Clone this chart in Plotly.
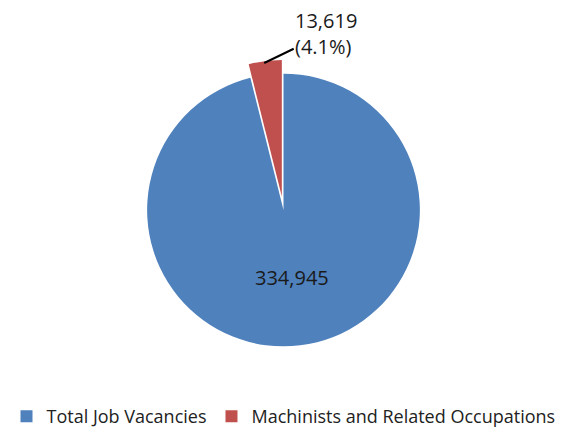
import plotly.graph_objects as go

categories = ["Total Job Vacancies", "Machinists and Related Occupations"]
values = [334945, 13619]
labels_text = ["334,945", "13,619<br>(4.1%)"]
colors = ["#4F81BD", "#C0504D"]

fig = go.Figure(go.Pie(
    labels=categories,
    values=values,
    text=[labels_text[0], ""],
    textinfo="text",
    textposition=["inside", "none"],
    insidetextorientation="horizontal",
    marker=dict(colors=colors, line=dict(color="white", width=0)),
    pull=[0, 0.1],
    sort=False,
    direction="clockwise",
    rotation=0,
    showlegend=True,
    insidetextfont=dict(family="Open Sans", size=20, color="#1a1a1a"),
    hoverinfo="label+value+percent",
))

fig.add_annotation(
    xref="paper", yref="paper", x=0.466, y=0.99,
    text=labels_text[1], showarrow=True, arrowhead=0, arrowwidth=2,
    arrowcolor="#000000", ax=62, ay=-30, align="left",
    font=dict(family="Open Sans", size=20, color="#1a1a1a"),
)

fig.update_layout(
    width=567, height=435,
    margin=dict(l=0, r=0, t=60, b=72),
    paper_bgcolor="white",
    plot_bgcolor="white",
    font=dict(family="Open Sans", size=18, color="#222"),
    legend=dict(orientation="h", x=0.5, xanchor="center", y=-0.19, yanchor="middle",
                font=dict(size=18), itemwidth=30, traceorder="normal",
                entrywidth=0),
)

fig.write_html("out.html")
